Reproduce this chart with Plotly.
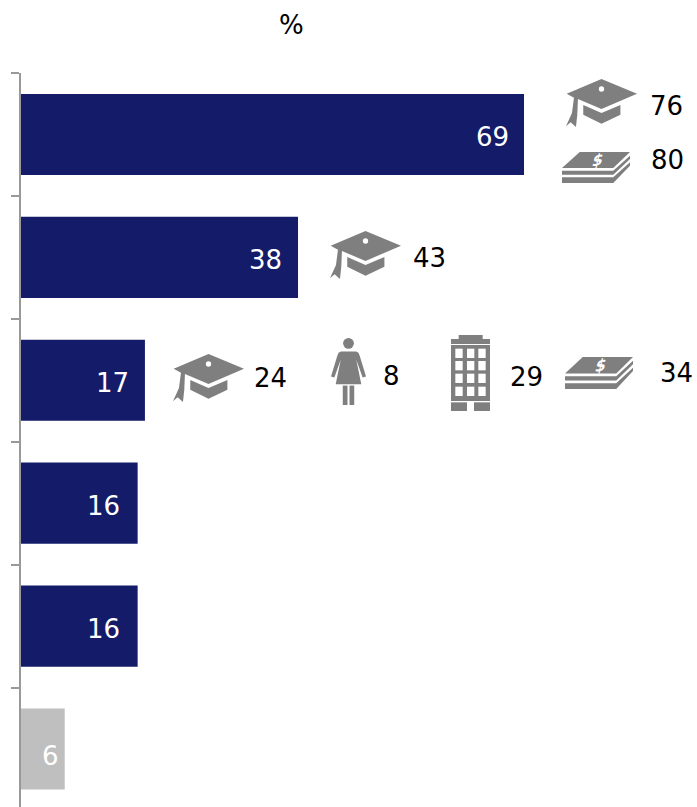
import base64
import plotly.graph_objects as go

categories = ["Row 1", "Row 2", "Row 3", "Row 4", "Row 5", "Row 6"]
values = [69, 38, 17, 16, 16, 6]
bar_colors = ["#141c69"] * 5 + ["#bfbfbf"]
label_shift_x = [-13, -14, -14, -16, -16, -4]
label_shift_y = [-3, -3, -3, -3, -3, -7]

W, H = 697, 807
L, T = 21, 73
GREY = "#7f7f7f"
FONT = "DejaVu Sans"
SIZE = 26

CAP = f'''<svg xmlns="http://www.w3.org/2000/svg" viewBox="48 28 214 144"><g fill="{GREY}">
<path d="M50 72 L155 28 L262 72 L155 118 L84 88 L82 135 L78 172 L62 158 L48 170 L66 130 L72 84 Z"/>
<path d="M100 106 L155 130 L212 106 L212 135 L155 162 L100 135 Z"/></g>
<circle cx="155" cy="58" r="8" fill="#fff"/></svg>'''

MONEY = f'''<svg xmlns="http://www.w3.org/2000/svg" viewBox="37 247 203 93"><g fill="{GREY}">
<path d="M37 295 L90 247 L240 247 L190 295 Z"/>
<path d="M37 303 L190 303 L240 258 L240 268 L190 315 L37 315 Z"/>
<path d="M37 323 L190 323 L240 278 L240 288 L190 340 L37 340 Z"/></g>
<text x="0" y="0" transform="translate(140 288) rotate(-12) skewX(-25)" font-family="DejaVu Sans" font-weight="bold" font-size="46" fill="#fff" text-anchor="middle">$</text></svg>'''

WOMAN = f'''<svg xmlns="http://www.w3.org/2000/svg" viewBox="33 40 104 200"><g fill="{GREY}">
<circle cx="85" cy="56" r="16"/>
<path d="M62 80 L108 80 Q116 82 118 92 L137 155 L127 158 L108 104 L123 178 L47 178 L62 104 L43 158 L33 155 L52 92 Q54 82 62 80 Z"/>
<rect x="68" y="182" width="14" height="58"/><rect x="88" y="182" width="14" height="58"/></g></svg>'''

cells = "".join(
    f'<rect x="{x}" y="{y}" width="22" height="28" fill="#fff"/>'
    for x in (406, 441, 475) for y in (71, 108, 146, 185)
)
BUILDING = f'''<svg xmlns="http://www.w3.org/2000/svg" viewBox="393 30 117 228"><g fill="{GREY}">
<rect x="416" y="30" width="72" height="12"/><rect x="393" y="42" width="117" height="15"/>
<rect x="393" y="60" width="117" height="168"/>
<rect x="393" y="232" width="48" height="26"/><rect x="462" y="232" width="48" height="26"/></g>{cells}</svg>'''

ICONS = {"cap": CAP, "money": MONEY, "woman": WOMAN, "building": BUILDING}

# icon name, left, top, width, height in page pixels
icon_places = [
    ("cap", 566, 79, 71, 48), ("money", 562, 152, 68, 31),
    ("cap", 330, 231, 71, 48),
    ("cap", 173, 354, 71, 48), ("woman", 331, 338, 35, 67),
    ("building", 451, 335, 39, 76), ("money", 565, 357, 68, 32),
]
side_labels = [
    ("76", 666, 106.5), ("80", 667, 160.5), ("43", 429, 257.5), ("24", 270, 377.5),
    ("8", 391, 375.5), ("29", 526, 376.5), ("34", 676, 372.5), ("%", 291, 24.5),
]

def px(x):
    return (x - L) / (W - L)

def py(y):
    return 1 - (y - T) / (H - T)

fig = go.Figure(go.Bar(
    x=values, y=categories, orientation="h",
    marker=dict(color=bar_colors, line=dict(width=0)),
    width=0.66, hoverinfo="skip",
))

annotations = [
    dict(x=v, y=c, xref="x", yref="y", text=str(v), showarrow=False,
         xanchor="right", xshift=sx, yshift=sy,
         font=dict(color="#ffffff", size=SIZE, family=FONT))
    for v, c, sx, sy in zip(values, categories, label_shift_x, label_shift_y)
]
annotations += [
    dict(x=px(x), y=py(y), xref="paper", yref="paper", text=t, showarrow=False,
         xanchor="center", yanchor="middle", font=dict(color="#000000", size=SIZE, family=FONT))
    for t, x, y in side_labels
]

images = [
    dict(source="data:image/svg+xml;base64," + base64.b64encode(ICONS[n].encode()).decode(),
         xref="paper", yref="paper", x=px(x), y=py(y), sizex=w / (W - L), sizey=h / (H - T),
         xanchor="left", yanchor="top", sizing="stretch", layer="above")
    for n, x, y, w, h in icon_places
]

fig.update_layout(
    width=W, height=H, margin=dict(l=L, r=0, t=T, b=0, pad=0),
    paper_bgcolor="#ffffff", plot_bgcolor="#ffffff", showlegend=False,
    annotations=annotations, images=images,
    xaxis=dict(range=[0, (W - L) / 7.29], visible=False),
    yaxis=dict(
        type="category", categoryorder="array", categoryarray=categories,
        range=[5.472, -0.5], tickson="boundaries", ticks="outside", ticklen=8,
        tickcolor="#999999", tickwidth=2, showticklabels=False, showgrid=False,
        showline=True, linecolor="#999999", linewidth=2, zeroline=False,
    ),
)
fig.write_html("out.html", config={"displayModeBar": False},
               post_script="document.body.style.margin='0';")
